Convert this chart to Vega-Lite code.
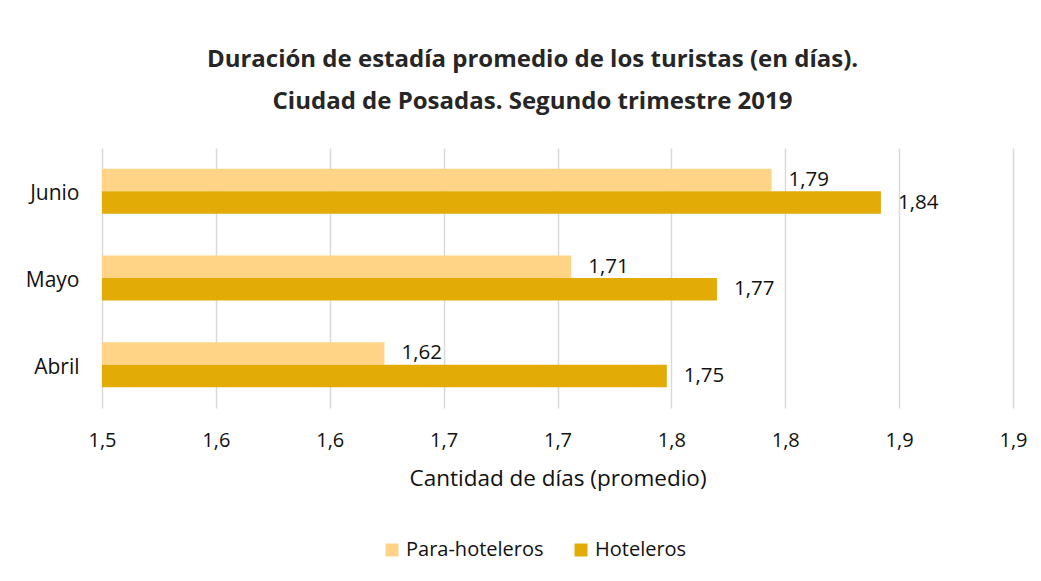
{
  "$schema": "https://vega.github.io/schema/vega-lite/v6.json",
  "width": 911,
  "height": 260,
  "autosize": {"type": "none"},
  "padding": {"left": 102, "top": 148, "right": 28, "bottom": 173},
  "background": "white",
  "title": {
    "text": ["Duración de estadía promedio de los turistas (en días).", "Ciudad de Posadas. Segundo trimestre 2019"],
    "anchor": "middle",
    "font": "Open Sans",
    "fontSize": 24,
    "fontWeight": "bold",
    "color": "#262626",
    "lineHeight": 42,
    "offset": 34,
    "dx": -25
  },
  "data": {
    "values": [
      {"mes": "Junio", "tipo": "Para-hoteleros", "valor": 1.794},
      {"mes": "Junio", "tipo": "Hoteleros", "valor": 1.842},
      {"mes": "Mayo", "tipo": "Para-hoteleros", "valor": 1.706},
      {"mes": "Mayo", "tipo": "Hoteleros", "valor": 1.770},
      {"mes": "Abril", "tipo": "Para-hoteleros", "valor": 1.624},
      {"mes": "Abril", "tipo": "Hoteleros", "valor": 1.748}
    ]
  },
  "encoding": {
    "y": {
      "field": "mes",
      "type": "nominal",
      "sort": ["Junio", "Mayo", "Abril"],
      "scale": {"paddingInner": 0.48, "paddingOuter": 0.24},
      "axis": {
        "title": null,
        "domain": false,
        "ticks": false,
        "labelPadding": 23,
        "labelOffset": 3,
        "labelFont": "Open Sans",
        "labelFontSize": 21,
        "labelColor": "#111111"
      }
    },
    "yOffset": {
      "field": "tipo",
      "type": "nominal",
      "sort": ["Para-hoteleros", "Hoteleros"],
      "scale": {"paddingInner": 0, "paddingOuter": 0}
    },
    "x": {
      "field": "valor",
      "type": "quantitative",
      "scale": {"domain": [1.5, 1.9], "zero": false, "nice": false},
      "axis": {
        "title": "Cantidad de días (promedio)",
        "values": [1.5, 1.55, 1.6, 1.65, 1.7, 1.75, 1.8, 1.85, 1.9],
        "labelExpr": "replace(format(round(datum.value*10)/10, '.1f'), '.', ',')",
        "labelFlush": false,
        "domain": false,
        "ticks": false,
        "grid": true,
        "gridColor": "#d9d9d9",
        "gridWidth": 1.5,
        "labelPadding": 22,
        "labelFont": "Open Sans",
        "labelFontSize": 20,
        "labelColor": "#111111",
        "titleFont": "Open Sans",
        "titleFontSize": 22.5,
        "titleFontWeight": "normal",
        "titleColor": "#111111",
        "titlePadding": 17
      }
    }
  },
  "layer": [
    {
      "mark": {"type": "bar"},
      "encoding": {
        "x2": {"datum": 1.5},
        "color": {
          "field": "tipo",
          "type": "nominal",
          "sort": ["Para-hoteleros", "Hoteleros"],
          "scale": {"domain": ["Para-hoteleros", "Hoteleros"], "range": ["#FFD486", "#E2AB06"]},
          "legend": {
            "title": null,
            "orient": "none",
            "direction": "horizontal",
            "legendX": 280,
            "legendY": 392,
            "symbolType": "square",
            "symbolSize": 169,
            "symbolStrokeWidth": 0,
            "labelFont": "Open Sans",
            "labelFontSize": 20,
            "labelColor": "#111111",
            "columnPadding": 27,
            "labelOffset": 4
          }
        }
      }
    },
    {
      "mark": {"type": "text", "align": "left", "baseline": "middle", "dx": 17, "font": "Open Sans", "fontSize": 20.5, "color": "#111111"},
      "encoding": {
        "text": {"field": "valor", "type": "quantitative", "format": ".2f"}
      }
    }
  ],
  "config": {
    "locale": {"number": {"decimal": ",", "thousands": ".", "grouping": [3], "currency": ["$", ""]}},
    "view": {"stroke": null}
  }
}
